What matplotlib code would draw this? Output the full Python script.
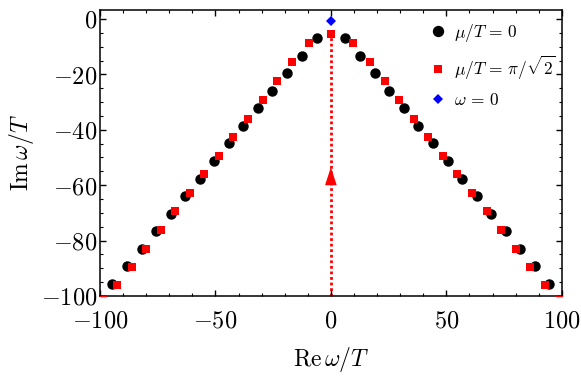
import numpy as np
import matplotlib
matplotlib.use("Agg")
import matplotlib.pyplot as plt
from matplotlib.ticker import MultipleLocator, FuncFormatter

plt.rcParams["mathtext.fontset"] = "cm"
plt.rcParams["font.family"] = "serif"
plt.rcParams["font.serif"] = ["DejaVu Serif"]

# mu/T = 0 (right half; left half is mirrored)
re_mu0 = [6.2, 12.6, 18.9, 25.3, 31.6, 37.9, 44.2, 50.5, 56.8, 63.1, 69.4, 75.7, 82.0, 88.3, 94.6]
im_mu0 = [-7.0, -13.4, -19.6, -25.9, -32.2, -38.5, -44.8, -51.2, -57.6, -63.9, -70.3, -76.6, -83.0, -89.3, -95.7]

# mu/T = pi/sqrt(2)
re_mu1 = [9.6, 16.9, 23.3, 29.6, 35.9, 42.2, 48.5, 54.8, 61.1, 67.4, 73.7, 80.0, 86.3, 92.5, 98.8]
im_mu1 = [-8.8, -15.6, -22.5, -29.2, -36.0, -42.6, -49.3, -56.0, -62.7, -69.4, -76.1, -82.9, -89.5, -96.1, -101.4]
re_mu1_axis = [0.0]
im_mu1_axis = [-5.5]

# omega = 0
re_w0 = [0.0]
im_w0 = [-0.7]

# vertical dotted path along the imaginary axis
path_re = [0.0, 0.0]
path_im = [-100.0, -5.5]
arrow_tip = -53.5
arrow_base = -60.5

fig = plt.figure(figsize=(5.81, 3.78), dpi=100)
ax = fig.add_axes([0.172, 0.217, 0.795, 0.757])

ax.plot(path_re, path_im, color="red", ls=(0, (1, 1)), lw=2.0, zorder=1)
ax.annotate("", xy=(0, arrow_tip), xytext=(0, arrow_base),
            arrowprops=dict(arrowstyle="-|>,head_length=1.3,head_width=0.42",
                            color="red", lw=0, shrinkA=0, shrinkB=0))

xs0 = np.concatenate([-np.array(re_mu0)[::-1], re_mu0])
ys0 = np.concatenate([np.array(im_mu0)[::-1], im_mu0])
xs1 = np.concatenate([-np.array(re_mu1)[::-1], re_mu1_axis, re_mu1])
ys1 = np.concatenate([np.array(im_mu1)[::-1], im_mu1_axis, im_mu1])

ax.plot(xs0, ys0, "o", color="black", ms=6.5, ls="none", label=r"$\mu/T\,=\,0$", zorder=2)
ax.plot(xs1, ys1, "s", color="red", ms=5.2, ls="none", mew=0,
        label=r"$\mu/T\,=\,\pi/\sqrt{2}$", zorder=3)
ax.plot(re_w0, im_w0, "D", color="blue", ms=4.8, ls="none", mew=0,
        label=r"$\omega\,=\,0$", zorder=3)

ax.set_xlim(-100, 100)
ax.set_ylim(-100, 3.3)
ax.xaxis.set_major_locator(MultipleLocator(50))
ax.xaxis.set_minor_locator(MultipleLocator(10))
ax.yaxis.set_major_locator(MultipleLocator(20))
ax.yaxis.set_minor_locator(MultipleLocator(5))
fmt = FuncFormatter(lambda v, p: r"$%d$" % round(v))
ax.xaxis.set_major_formatter(fmt)
ax.yaxis.set_major_formatter(fmt)
ax.tick_params(which="both", direction="in", top=True, right=True, labelsize=17.5)
ax.tick_params(axis="x", which="major", pad=10)
ax.tick_params(axis="y", which="major", pad=2)
ax.tick_params(which="major", length=4, width=1)
ax.tick_params(which="minor", length=2.5, width=0.8)
for s in ax.spines.values():
    s.set_linewidth(1.1)

ax.set_xlabel(r"$\mathrm{Re}\,\omega/T$", fontsize=17, labelpad=9)
ax.set_ylabel(r"$\mathrm{Im}\,\omega/T$", fontsize=17, labelpad=2)
ax.yaxis.set_label_coords(-0.138, 0.5)

ax.legend(loc="upper right", bbox_to_anchor=(1.02, 1.012), frameon=False,
          fontsize=12.5, handletextpad=0.15, labelspacing=0.58,
          handlelength=1.5, markerscale=1.1)

fig.savefig("out.png", dpi=100)
